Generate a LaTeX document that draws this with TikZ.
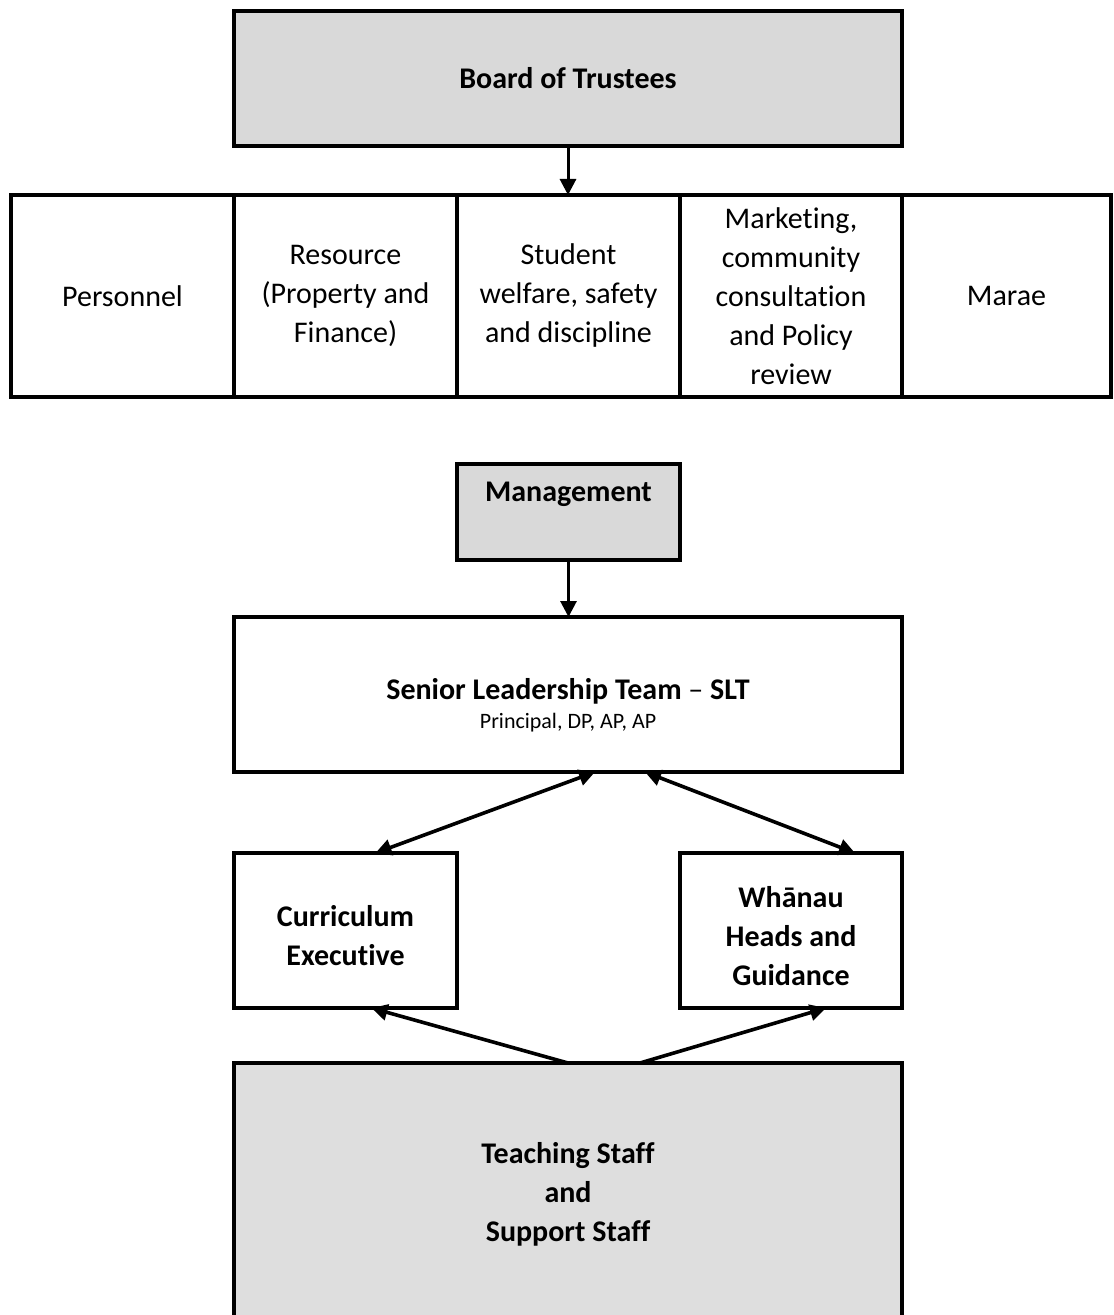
\documentclass[tikz,border=0pt]{standalone}
\usepackage{fontspec}
\setmainfont{Carlito}[Ligatures={TeX,NoCommon}]
\usetikzlibrary{arrows.meta}

\definecolor{boxgray}{RGB}{217,217,217}
\definecolor{staffgray}{RGB}{222,222,222}

\begin{document}
\begin{tikzpicture}[x=0.5pt,y=-0.5pt,
  font=\fontsize{15}{19.5}\selectfont,
  bold/.style={font=\fontsize{15}{19.5}\selectfont\bfseries},
  box/.style={draw, line width=2pt, inner sep=0pt, outer sep=0pt, align=center},
  cell/.style={box, minimum width=111.5pt, minimum height=101pt},
  link/.style={line width=1.8pt, -{Triangle[length=8pt,width=8pt]}},
  both/.style={link, {Triangle[length=8pt,width=8pt]}-{Triangle[length=8pt,width=8pt]}}]
  \useasboundingbox (0,0) rectangle (1113,1315);

  % board and its committees
  \node[box, fill=boxgray, minimum width=334pt, minimum height=67.5pt, bold] (board) at (568,78.5) {Board of Trustees};
  \node[cell] (personnel) at (122.5,296) {Personnel};
  \node[cell] (resource) at (345.5,296) {Resource\\(Property and\\Finance)};
  \node[cell] (welfare) at (568.5,296) {Student\\welfare, safety\\and discipline};
  \node[cell, minimum width=111pt] (marketing) at (791,296) {Marketing,\\community\\consultation\\and Policy\\review};
  \node[cell, minimum width=104.5pt] (marae) at (1006.5,296) {Marae};
  \draw[link, line width=1.5pt] (board.south) -- (board.south |- welfare.north);

  % management
  \node[box, fill=boxgray, minimum width=111.5pt, minimum height=48pt, bold, text depth=20pt] (mgmt) at (568.5,512) {Management};
  \node[box, minimum width=334pt, minimum height=77.5pt, text height=36pt] (slt) at (568,694.5)
    {\textbf{Senior Leadership Team} – \textbf{SLT}\\[-5pt]{\fontsize{11}{15}\selectfont Principal, DP, AP, AP}};
  \node[box, minimum width=111.5pt, minimum height=77.5pt, bold, text height=35pt] (curric) at (345.5,930.5) {Curriculum\\Executive};
  \node[box, minimum width=111pt, minimum height=77.5pt, bold, text height=55pt] (whanau) at (791,930.5) {Whānau\\Heads and\\Guidance};
  \node[box, fill=staffgray, minimum width=334pt, minimum height=131pt, bold] (staff) at (568,1194) {Teaching Staff\\and\\Support Staff};

  \draw[link, line width=1.5pt] (mgmt.south) -- (mgmt.south |- slt.north);
  \draw[both] ([xshift=15pt]curric.north) -- ([xshift=13.5pt]slt.south);
  \draw[both] ([xshift=38.5pt]slt.south) -- ([xshift=32pt]whanau.north);
  \draw[link] (staff.north) -- ([xshift=13pt]curric.south);
  \draw[link] ([xshift=36pt]staff.north) -- ([xshift=17.5pt]whanau.south);
\end{tikzpicture}
\end{document}
